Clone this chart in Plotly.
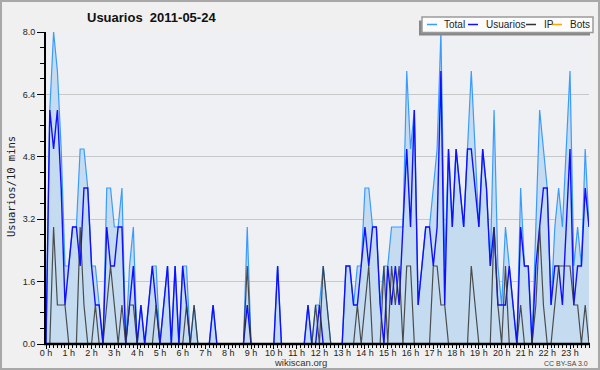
import plotly.graph_objects as go

# ---- data (10-minute steps, 0h00 .. 23h50) ----
usuarios = [0, 6, 5, 6, 4, 1, 2, 3, 3, 2, 4, 4, 2, 1, 1, 0,
            3, 2, 2, 3, 3, 0, 1, 2, 0, 1, 0, 1, 2, 1, 0, 1,
            2, 0, 2, 0, 2, 1, 0, 0, 0, 0, 0, 0, 1, 0, 0, 0,
            0, 0, 0, 0, 0, 1, 0, 0, 0, 0, 0, 0, 0, 2, 0, 0,
            0, 0, 0, 0, 0, 1, 0, 0, 1, 0, 0, 0, 0, 0, 0, 2,
            2, 1, 1, 2, 3, 2, 3, 3, 1, 0, 2, 1, 2, 1, 3, 5,
            3, 6, 1, 2, 3, 3, 2, 3, 7, 1, 5, 3, 5, 4, 3, 5,
            5, 4, 3, 5, 4, 2, 3, 1, 1, 1, 2, 1, 0, 3, 2, 2,
            0, 2, 3, 4, 4, 1, 2, 2, 1, 3, 5, 1, 2, 2, 4, 3]
ip = [0, 0, 3, 1, 1, 1, 0, 0, 0, 3, 1, 0, 0, 1, 0, 0,
      1, 2, 1, 0, 1, 0, 1, 1, 0, 0, 0, 0, 0, 1, 0, 0,
      0, 0, 0, 0, 0, 1, 0, 1, 0, 0, 0, 0, 0, 0, 0, 0,
      0, 0, 0, 0, 0, 2, 0, 0, 0, 0, 0, 0, 0, 0, 0, 0,
      0, 0, 0, 0, 0, 0, 0, 1, 0, 2, 1, 0, 0, 0, 0, 0,
      0, 0, 1, 0, 1, 2, 0, 0, 0, 2, 0, 2, 1, 2, 0, 2,
      2, 0, 0, 0, 0, 0, 2, 2, 1, 1, 0, 0, 0, 0, 0, 0,
      2, 1, 0, 0, 0, 0, 3, 1, 0, 2, 0, 0, 0, 1, 0, 0,
      0, 1, 3, 1, 0, 0, 1, 2, 2, 2, 2, 1, 1, 0, 1, 0]
bots = [0] * 144
total = [u + p + b for u, p, b in zip(usuarios, ip, bots)]

hours = [i / 6 for i in range(144)]
hour_ticks = list(range(24))
hour_labels = [f"{h} h" for h in hour_ticks]
y_ticks = [0.0, 1.6, 3.2, 4.8, 6.4, 8.0]

# ---- geometry helpers (pixel -> paper) ----
L, R, T, B = 46, 11, 32, 26
W, H = 600, 370
PW, PH = W - L - R, H - T - B


def px(x):
    return (x - L) / PW


def py(y):
    return (H - B - y) / PH


fig = go.Figure()
fig.add_trace(go.Scatter(x=hours, y=total, mode="lines", name="Total",
                         line=dict(color="#3a9bff", width=1.2),
                         fill="tozeroy", fillcolor="#c5dcf0"))
fig.add_trace(go.Scatter(x=hours, y=usuarios, mode="lines", name="Usuarios",
                         line=dict(color="#1010ff", width=1.4)))
fig.add_trace(go.Scatter(x=hours, y=ip, mode="lines", name="IP",
                         line=dict(color="rgba(50,50,50,0.85)", width=1.2)))
fig.add_trace(go.Scatter(x=hours, y=bots, mode="lines", name="Bots",
                         line=dict(color="#ffa500", width=1.2)))

tickfont = dict(family="Liberation Sans", size=9, color="#222")

fig.update_layout(
    width=W, height=H,
    margin=dict(l=L, r=R, t=T, b=B, pad=0),
    paper_bgcolor="#f0f0f0",
    plot_bgcolor="#eef0f3",
    showlegend=False,
    hovermode=False,
    xaxis=dict(range=[0, 143 / 6], tickmode="array", tickvals=hour_ticks,
               ticktext=hour_labels, ticks="outside", ticklen=4,
               tickcolor="black", tickwidth=1, showline=False,
               showgrid=False, zeroline=False, tickfont=tickfont,
               automargin=False, ticklabelstandoff=-4,
               minor=dict(tickmode="array", tickvals=hours, ticks="outside",
                          ticklen=3, tickcolor="black", showgrid=False)),
    yaxis=dict(range=[0, 8], tickmode="array", tickvals=y_ticks,
               ticktext=[f"{v:.1f}" for v in y_ticks], ticks="outside",
               ticklen=7, tickcolor="black", showline=True,
               linecolor="black", linewidth=2, showgrid=True,
               gridcolor="#c8c8c8", gridwidth=1, zeroline=False,
               tickfont=tickfont, automargin=False,
               minor=dict(dtick=0.4, tick0=0, ticks="outside", ticklen=4,
                          tickcolor="black", showgrid=False)),
)

shapes = []
annotations = []

# x axis line drawn over the zero-valued line segments
shapes.append(dict(type="line", xref="paper", yref="paper",
                   x0=px(44), x1=px(590), y0=0, y1=0,
                   line=dict(color="black", width=2.5), layer="above"))

# outer frame
shapes.append(dict(type="rect", xref="paper", yref="paper",
                   x0=px(1), x1=px(599), y0=py(369), y1=py(1),
                   line=dict(color="#a8a8a8", width=2), layer="above"))

# title
annotations.append(dict(text="<b>Usuarios  2011-05-24</b>", xref="paper", yref="paper",
                        x=px(85), y=py(18), xanchor="left", yanchor="middle",
                        showarrow=False,
                        font=dict(family="Liberation Sans", size=13, color="#111")))

# y axis title
annotations.append(dict(text="Usuarios/10 mins", xref="paper", yref="paper",
                        x=px(11), y=py(187), xanchor="center", yanchor="middle",
                        textangle=-90, showarrow=False,
                        font=dict(family="DejaVu Sans Mono", size=10.5, color="#222")))

# footer texts
annotations.append(dict(text="wikiscan.org", xref="paper", yref="paper",
                        x=px(300), y=py(362.5), xanchor="center", yanchor="middle",
                        showarrow=False,
                        font=dict(family="Liberation Sans", size=9.5, color="#333")))
annotations.append(dict(text="CC BY-SA 3.0", xref="paper", yref="paper",
                        x=px(590), y=py(363), xanchor="right", yanchor="middle",
                        showarrow=False,
                        font=dict(family="Liberation Sans", size=7, color="#444")))

# legend (drawn by hand)
shapes.append(dict(type="rect", xref="paper", yref="paper",
                   x0=px(419), x1=px(590), y0=py(35.5), y1=py(20.5),
                   fillcolor="#888", line=dict(width=0), layer="above"))
shapes.append(dict(type="rect", xref="paper", yref="paper",
                   x0=px(422), x1=px(593), y0=py(32.5), y1=py(17),
                   fillcolor="#fcfcfc", line=dict(color="#9a9a9a", width=1.5),
                   layer="above"))
legend_items = [("Total", "#3a9bff", 427, 442),
                ("Usuarios", "#1010ff", 468, 484),
                ("IP", "#333333", 526, 542),
                ("Bots", "#ffa500", 552, 568)]
for name, color, lx, tx in legend_items:
    shapes.append(dict(type="line", xref="paper", yref="paper",
                       x0=px(lx), x1=px(lx + 10), y0=py(24.5), y1=py(24.5),
                       line=dict(color=color, width=1.5), layer="above"))
    annotations.append(dict(text=name, xref="paper", yref="paper",
                            x=px(tx), y=py(24.5), xanchor="left", yanchor="middle",
                            showarrow=False,
                            font=dict(family="Liberation Sans", size=10, color="#222")))

fig.update_layout(shapes=shapes, annotations=annotations)
fig.write_html("out.html",
               config={"displayModeBar": False, "staticPlot": True},
               post_script="document.body.style.margin='0';"
                           "document.body.style.overflow='hidden';")
